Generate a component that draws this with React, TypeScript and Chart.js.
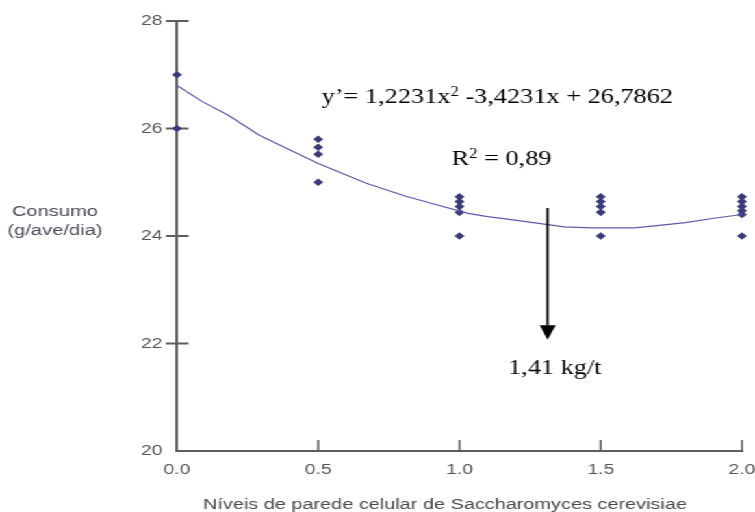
import React, { useEffect, useRef } from 'react';
import { Chart, registerables } from 'chart.js';

Chart.register(...registerables);

// ---------- data ----------
const levels = [0, 0.5, 1.0, 1.5, 2.0];
const consumoLevel0 = [27.0, 26.0];
const consumoLevel05 = [25.8, 25.65, 25.52, 25.0];
const consumoLevel10 = [24.73, 24.64, 24.55, 24.44, 24.0];
const consumoLevel15 = [24.73, 24.64, 24.55, 24.44, 24.0];
const consumoLevel20 = [24.73, 24.64, 24.55, 24.47, 24.4, 24.0];

const curveX = [0, 0.09, 0.18, 0.29, 0.38, 0.5, 0.67, 0.81, 0.9, 1.03, 1.1, 1.19, 1.3, 1.37, 1.47, 1.62, 1.69, 1.8, 1.9, 2.0];
const curveY = [26.8, 26.5, 26.25, 25.88, 25.65, 25.35, 24.98, 24.74, 24.61, 24.42, 24.36, 24.3, 24.22, 24.17, 24.15, 24.15, 24.19, 24.25, 24.33, 24.4];

const xTickLabels = ['0.0', '0.5', '1.0', '1.5', '2.0'];
const yTickLabels = ['20', '22', '24', '26', '28'];
const yTickMarks = [22, 24, 26, 28];

const xTitle = 'Níveis de parede celular de Saccharomyces cerevisiae';
const yTitleLines = ['Consumo', '(g/ave/dia)'];
const equationParts = [
  { t: 'y’= 1,2231x' },
  { t: '2', sup: true },
  { t: ' -3,4231x + 26,7862' },
];
const r2Parts = [{ t: 'R' }, { t: '2', sup: true }, { t: ' = 0,89' }];
const optimumParts = [{ t: '1,41 kg/t' }];

// ---------- layout / style ----------
const INNER_W = 581;
const H = 512;
const STRETCH = 755 / INNER_W;
const TEXT_SX = 0.92;
const AXIS_COLOR = '#5e5e5e';
const TICK_TEXT = '#555555';
const POINT_COLOR = '#3a3a78';
const CURVE_COLOR = '#5b5bab';
const SANS = '"Liberation Sans", Arial, sans-serif';
const SERIF = '"Liberation Serif", "Times New Roman", serif';

function drawRich(ctx: CanvasRenderingContext2D, parts: { t: string; sup?: boolean }[], x: number, y: number) {
  ctx.save();
  ctx.translate(x, y);
  ctx.scale(TEXT_SX, 1);
  ctx.fillStyle = '#000';
  ctx.textBaseline = 'alphabetic';
  ctx.textAlign = 'left';
  let cx = 0;
  for (const p of parts) {
    ctx.font = p.sup ? `14px ${SERIF}` : `22px ${SERIF}`;
    ctx.fillText(p.t, cx, p.sup ? -7 : 0);
    cx += ctx.measureText(p.t).width;
  }
  ctx.restore();
}

const decorPlugin = {
  id: 'decor',
  beforeDatasetsDraw(chart: any) {
    const { ctx, chartArea, scales } = chart;
    const y = scales.y;
    const x = scales.x;
    ctx.save();
    ctx.strokeStyle = AXIS_COLOR;
    ctx.lineWidth = 2;
    for (const v of yTickMarks) {
      const py = y.getPixelForValue(v);
      ctx.beginPath();
      ctx.moveTo(chartArea.left - 8.5, py);
      ctx.lineTo(chartArea.left + 9, py);
      ctx.stroke();
    }
    ctx.lineWidth = 1.5;
    for (const v of levels.slice(1)) {
      const px = x.getPixelForValue(v);
      ctx.beginPath();
      ctx.moveTo(px, chartArea.bottom);
      ctx.lineTo(px, chartArea.bottom - 11);
      ctx.stroke();
    }
    ctx.restore();
  },
  afterDraw(chart: any) {
    const { ctx, chartArea, scales } = chart;
    const x = scales.x;
    const y = scales.y;
    ctx.save();
    // y title (horizontal)
    ctx.fillStyle = '#4c4c5c';
    ctx.font = `15.5px ${SANS}`;
    ctx.textAlign = 'center';
    ctx.textBaseline = 'middle';
    ctx.fillText(yTitleLines[0], 42.3, 212);
    ctx.fillText(yTitleLines[1], 42.3, 231);
    // x title
    ctx.fillStyle = '#484850';
    ctx.font = `15.3px ${SANS}`;
    ctx.textBaseline = 'alphabetic';
    ctx.fillText(xTitle, 445 / STRETCH, 509);
    ctx.restore();

    // annotations
    drawRich(ctx, equationParts, x.getPixelForValue(0.512), y.getPixelForValue(26.47));
    drawRich(ctx, r2Parts, x.getPixelForValue(0.972), y.getPixelForValue(25.32));
    drawRich(ctx, optimumParts, x.getPixelForValue(1.172), y.getPixelForValue(21.43));

    // arrow
    const ax = x.getPixelForValue(1.312);
    const top = y.getPixelForValue(24.52);
    const tip = y.getPixelForValue(22.07);
    const base = y.getPixelForValue(22.34);
    ctx.save();
    ctx.strokeStyle = '#000';
    ctx.fillStyle = '#000';
    ctx.lineWidth = 1.8;
    ctx.beginPath();
    ctx.moveTo(ax, top);
    ctx.lineTo(ax, base);
    ctx.stroke();
    ctx.beginPath();
    ctx.moveTo(ax - 6.1, base);
    ctx.lineTo(ax + 6.1, base);
    ctx.lineTo(ax, tip);
    ctx.closePath();
    ctx.fill();
    ctx.restore();
    void chartArea;
  },
};

function toPoints(xv: number, ys: number[]) {
  return ys.map((v) => ({ x: xv, y: v }));
}

export default function App() {
  const canvasRef = useRef<HTMLCanvasElement | null>(null);

  useEffect(() => {
    if (!canvasRef.current) return;
    const scatterData = [
      ...toPoints(levels[0], consumoLevel0),
      ...toPoints(levels[1], consumoLevel05),
      ...toPoints(levels[2], consumoLevel10),
      ...toPoints(levels[3], consumoLevel15),
      ...toPoints(levels[4], consumoLevel20),
    ];
    const curveData = curveX.map((v, i) => ({ x: v, y: curveY[i] }));

    const chart = new Chart(canvasRef.current, {
      type: 'scatter',
      data: {
        datasets: [
          {
            type: 'line',
            data: curveData,
            borderColor: CURVE_COLOR,
            borderWidth: 1.2,
            pointRadius: 0,
            tension: 0,
            fill: false,
            clip: false,
          } as any,
          {
            type: 'scatter',
            data: scatterData,
            pointStyle: 'rectRot',
            pointRadius: 3.8,
            pointBorderWidth: 0,
            backgroundColor: POINT_COLOR,
            borderColor: POINT_COLOR,
            clip: false,
          } as any,
        ],
      },
      options: {
        animation: false,
        responsive: false,
        maintainAspectRatio: false,
        events: [],
        layout: { padding: { left: 0, right: 10, top: 21, bottom: 0 } },
        plugins: { legend: { display: false }, tooltip: { enabled: false }, title: { display: false } },
        scales: {
          x: {
            type: 'linear',
            min: 0,
            max: 2,
            afterFit: (s: any) => {
              s.height = 61;
              s.paddingLeft = 0;
              s.paddingRight = 0;
            },
            ticks: {
              stepSize: 0.5,
              color: TICK_TEXT,
              font: { family: SANS, size: 15 },
              padding: 10,
              maxRotation: 0,
              callback: (_v: any, i: number) => xTickLabels[i],
            },
            grid: { display: true, drawOnChartArea: false, drawTicks: false },
            border: { display: true, color: AXIS_COLOR, width: 2 },
          },
          y: {
            type: 'linear',
            min: 20,
            max: 28,
            afterFit: (s: any) => {
              s.width = 177 / STRETCH;
              s.paddingTop = 0;
              s.paddingBottom = 0;
            },
            ticks: {
              stepSize: 2,
              color: TICK_TEXT,
              font: { family: SANS, size: 15 },
              padding: 11,
              callback: (_v: any, i: number) => yTickLabels[i],
            },
            grid: { display: true, drawOnChartArea: false, drawTicks: false },
            border: { display: true, color: AXIS_COLOR, width: 2 },
          },
        },
      },
      plugins: [decorPlugin],
    });
    return () => chart.destroy();
  }, []);

  return (
    <div
      style={{
        position: 'absolute',
        left: 0,
        top: 0,
        width: INNER_W,
        height: H,
        transform: `scaleX(${STRETCH})`,
        transformOrigin: '0 0',
        background: '#fff',
      }}
    >
      <canvas ref={canvasRef} width={INNER_W} height={H} style={{ display: 'block', width: INNER_W, height: H }} />
    </div>
  );
}
